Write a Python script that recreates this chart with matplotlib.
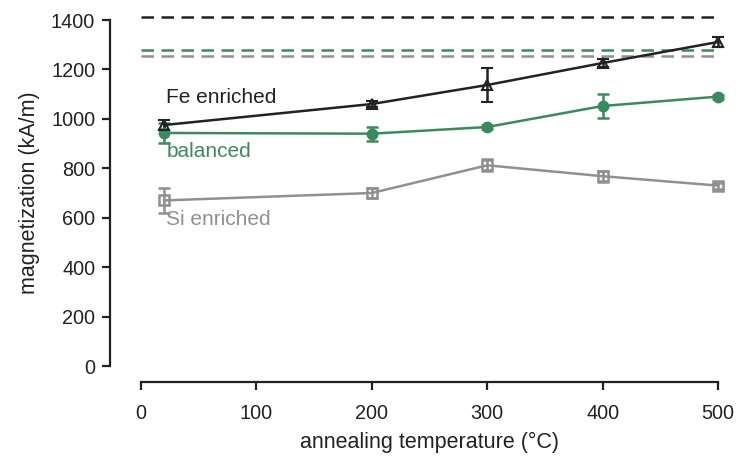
import matplotlib
matplotlib.use("Agg")
import matplotlib.pyplot as plt

plt.rcParams['font.family'] = ['Liberation Sans', 'DejaVu Sans']

temps = [20, 200, 300, 400, 500]

fe_vals = [975, 1060, 1137, 1226, 1311]
fe_err = [22, 12, 70, 18, 22]

bal_vals = [943, 940, 967, 1052, 1090]
bal_err = [40, 28, 8, 47, 8]

si_vals = [670, 700, 812, 768, 730]
si_err = [50, 20, 25, 22, 12]

ref_fe = 1412
ref_bal = 1280
ref_si = 1255

labels = ["Fe enriched", "balanced", "Si enriched"]
label_y = [1088, 868, 592]

xticks = [0, 100, 200, 300, 400, 500]
yticks = [0, 200, 400, 600, 800, 1000, 1200, 1400]

c_fe = "#222222"
c_bal = "#3b8a5e"
c_si = "#909090"

fig = plt.figure(figsize=(7.36, 4.61), dpi=100)
ax = fig.add_axes([141/736, (461-366)/461, 577/736, 346/461])

lw = 1.8
dash = (0, (5, 3))
ax.hlines(ref_fe, 0, 500, colors=c_fe, linestyles=dash, lw=lw, clip_on=False)
ax.hlines(ref_bal, 0, 500, colors=c_bal, linestyles=dash, lw=lw, clip_on=False)
ax.hlines(ref_si, 0, 500, colors=c_si, linestyles=dash, lw=lw, clip_on=False)

common = dict(lw=lw, capsize=4, elinewidth=1.8, capthick=1.8, clip_on=False, ms=7.5)
ax.errorbar(temps, si_vals, yerr=si_err, color=c_si, marker='s', mfc='none', mew=1.8, **common)
ax.errorbar(temps, bal_vals, yerr=bal_err, color=c_bal, marker='o', **common)
ax.errorbar(temps, fe_vals, yerr=fe_err, color=c_fe, marker='^', mfc='none', mew=1.5, **common)

for lab, ly, c in zip(labels, label_y, [c_fe, c_bal, c_si]):
    ax.text(22, ly, lab, color=c, fontsize=15, ha='left', va='center')

ax.set_xlim(0, 500)
ax.set_ylim(0, 1400)
ax.set_xticks(xticks)
ax.set_yticks(yticks)

for s in ['top', 'right']:
    ax.spines[s].set_visible(False)
ax.spines['left'].set_position(('outward', 22))
ax.spines['bottom'].set_position(('outward', 11.5))
ax.spines['left'].set_linewidth(1.6)
ax.spines['bottom'].set_linewidth(1.6)
ax.spines['left'].set_color('#222222')
ax.spines['bottom'].set_color('#222222')
ax.tick_params(axis='both', direction='out', length=6, width=1.6, color='#222222',
               labelsize=14.3, labelcolor='#222222')
ax.tick_params(axis='x', pad=10)
ax.tick_params(axis='y', pad=5)

ax.set_xlabel("annealing temperature (°C)", fontsize=15.5, color='#222222', labelpad=6)
ax.set_ylabel("magnetization (kA/m)", fontsize=15.5, color='#222222', labelpad=8)

fig.savefig("out.png", dpi=100)
